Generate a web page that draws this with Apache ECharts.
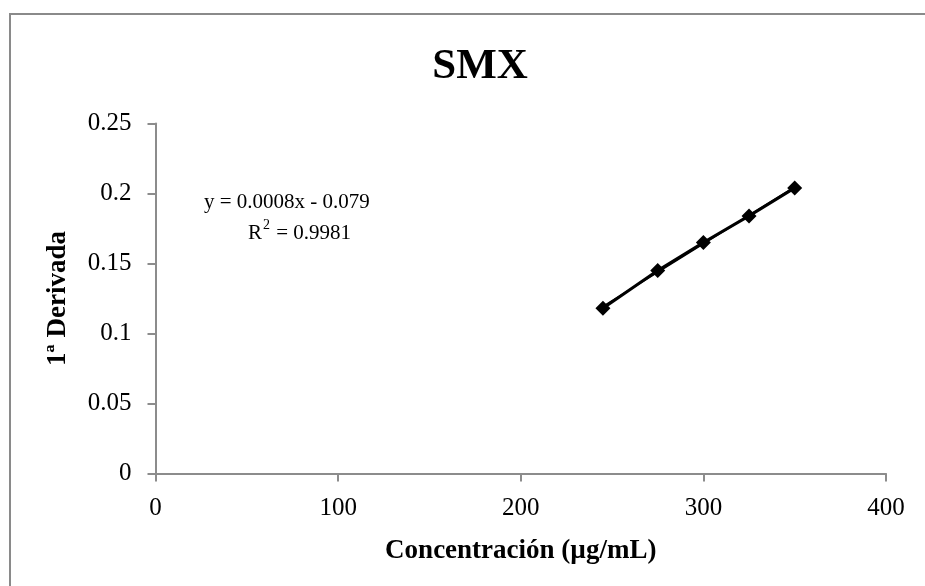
<!DOCTYPE html>
<html>
<head>
<meta charset="utf-8">
<script src="https://cdn.jsdelivr.net/npm/echarts@6/dist/echarts.min.js"></script>
<style>
  html, body { margin: 0; padding: 0; background: #fff; }
  #chart { width: 925px; height: 586px; }
</style>
</head>
<body>
<div id="chart"></div>
<script>
// Calibration data: concentration (µg/mL) vs first-derivative signal
const concentration = [245, 275, 300, 325, 350];
const derivative = [0.118, 0.145, 0.165, 0.184, 0.204];

const chartTitle = 'SMX';
const xAxisTitle = 'Concentración (µg/mL)';
const yAxisTitle = '1ª Derivada';
const equationText = 'y = 0.0008x - 0.079';
const r2Value = '0.9981';

// Least-squares linear trend through the calibration points
function linearFit(xs, ys) {
  const n = xs.length;
  const mx = xs.reduce((a, b) => a + b, 0) / n;
  const my = ys.reduce((a, b) => a + b, 0) / n;
  let sxy = 0, sxx = 0;
  for (let i = 0; i < n; i++) {
    sxy += (xs[i] - mx) * (ys[i] - my);
    sxx += (xs[i] - mx) * (xs[i] - mx);
  }
  const slope = sxy / sxx;
  return { slope, intercept: my - slope * mx };
}
const fit = linearFit(concentration, derivative);
const xMin = Math.min(...concentration);
const xMax = Math.max(...concentration);
const trend = [
  [xMin, fit.slope * xMin + fit.intercept],
  [xMax, fit.slope * xMax + fit.intercept]
];

const points = concentration.map((x, i) => [x, derivative[i]]);

const FONT = '"Liberation Serif", "Times New Roman", serif';
const AXIS_GREY = '#8c8c8c';

const chart = echarts.init(document.getElementById('chart'));
chart.setOption({
  animation: false,
  backgroundColor: '#ffffff',
  title: {
    text: chartTitle,
    left: 475,
    top: 40,
    textAlign: 'center',
    textStyle: { fontFamily: FONT, fontSize: 43, fontWeight: 'bold', color: '#000' }
  },
  grid: { left: 155.5, right: 39, top: 123.5, bottom: 112.5, containLabel: false },
  xAxis: {
    type: 'value',
    min: 0, max: 400, interval: 100,
    name: xAxisTitle,
    nameLocation: 'middle',
    nameGap: 64,
    nameTextStyle: { fontFamily: FONT, fontSize: 27, fontWeight: 'bold', color: '#000' },
    axisLine: { show: true, onZero: false, lineStyle: { color: AXIS_GREY, width: 2 } },
    axisTick: { show: true, inside: false, length: 8, lineStyle: { color: AXIS_GREY, width: 2 } },
    axisLabel: { margin: 22, fontFamily: FONT, fontSize: 25, color: '#000' },
    splitLine: { show: false }
  },
  yAxis: {
    type: 'value',
    min: 0, max: 0.25, interval: 0.05,
    name: yAxisTitle,
    nameLocation: 'middle',
    nameGap: 84,
    nameRotate: 90,
    nameTextStyle: { fontFamily: FONT, fontSize: 27, fontWeight: 'bold', color: '#000' },
    axisLine: { show: true, lineStyle: { color: AXIS_GREY, width: 2 } },
    axisTick: { show: true, inside: false, length: 8, lineStyle: { color: AXIS_GREY, width: 2 } },
    axisLabel: { margin: 24, fontFamily: FONT, fontSize: 25, color: '#000' },
    splitLine: { show: false }
  },
  series: [
    {
      type: 'line',
      data: trend,
      showSymbol: false,
      symbol: 'none',
      lineStyle: { color: '#000', width: 1.5 },
      z: 2,
      silent: true
    },
    {
      type: 'line',
      data: points,
      symbol: 'diamond',
      symbolSize: 15,
      itemStyle: { color: '#000' },
      lineStyle: { color: '#000', width: 3 },
      z: 3
    }
  ],
  graphic: [
    {
      type: 'rect',
      shape: { x: 10, y: 14, width: 940, height: 620 },
      style: { fill: 'none', stroke: '#8a8a8a', lineWidth: 2 },
      silent: true
    },
    {
      type: 'text',
      left: 204,
      top: 192,
      style: { text: equationText, font: '21px ' + FONT, fill: '#000' }
    },
    {
      type: 'text',
      left: 248,
      top: 216,
      style: {
        text: '{b|R}{s|2}{b| = ' + r2Value + '}',
        fill: '#000',
        rich: {
          b: { fontFamily: FONT, fontSize: 21, lineHeight: 28, verticalAlign: 'bottom' },
          s: { fontFamily: FONT, fontSize: 14, lineHeight: 28, verticalAlign: 'top', padding: [2, 1, 0, 1] }
        }
      }
    }
  ]
});
</script>
</body>
</html>
